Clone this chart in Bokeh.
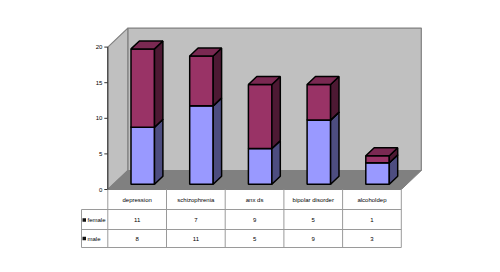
from bokeh.plotting import figure
from bokeh.models import Range1d
from bokeh.embed import file_html
from bokeh.resources import INLINE
from bokeh.core.properties import value

# ---- data ----
categories = ["depression", "schizophrenia", "anx ds", "bipolar disorder", "alcoholdep"]
female = [11, 7, 9, 5, 1]
male = [8, 11, 5, 9, 3]
series_names = ["female", "male"]
y_ticks = [0, 5, 10, 15, 20]
y_max = 20

# ---- geometry (style) ----
W, H = 500, 272
X0, XS = 107.3, 58.7   # pixel of category-start 0, pixels per category
Y0, YS = 189.0, 7.12   # pixel of value 0, pixels per unit
DX, DY = 20.0 / XS, 19.0 / YS   # depth vector of the 3D box in data units
F1, F2 = 0.28, 0.70             # bar front / back depth fractions
BW = 23.5 / XS                  # bar width in category units
FONT = value("Liberation Sans")
FS = "6px"

p = figure(width=W, height=H, output_backend="svg", toolbar_location=None,
           x_range=Range1d(-X0 / XS, (W - X0) / XS),
           y_range=Range1d(-(H - Y0) / YS, Y0 / YS),
           x_axis_type=None, y_axis_type=None, min_border=0)
p.outline_line_color = None
p.background_fill_color = "white"
p.border_fill_color = "white"

n = len(categories)

# walls and floor
p.patch([DX, n + DX, n + DX, DX], [DY, DY, y_max + DY, y_max + DY],
        fill_color="#C0C0C0", line_color="#808080", line_width=1.2)
p.patch([0, DX, DX, 0], [0, DY, y_max + DY, y_max],
        fill_color="#C0C0C0", line_color="#808080", line_width=1.2)
p.patch([0, n, n + DX, DX], [0, 0, DY, DY],
        fill_color="#808080", line_color="#808080", line_width=1)

# value axis
p.segment(x0=[0], y0=[0], x1=[0], y1=[y_max], line_color="#333333", line_width=1)
p.segment(x0=[-3.5 / XS] * len(y_ticks), y0=y_ticks, x1=[0] * len(y_ticks), y1=y_ticks,
          line_color="#333333", line_width=1)
p.text(x=[-5.5 / XS] * len(y_ticks), y=y_ticks, text=[str(t) for t in y_ticks],
       text_align="right", text_baseline="middle", text_font=FONT,
       text_font_size=FS, text_color="#000000")

# bars
def faces(bottoms, tops):
    fr_x, fr_y, sd_x, sd_y, tp_x, tp_y = [], [], [], [], [], []
    for i, (b, t) in enumerate(zip(bottoms, tops)):
        c = i + 0.5
        xa, xb = c - BW / 2, c + BW / 2
        ax, ay = F1 * DX, F1 * DY
        bx, by = F2 * DX, F2 * DY
        fr_x.append([xa + ax, xb + ax, xb + ax, xa + ax])
        fr_y.append([b + ay, b + ay, t + ay, t + ay])
        sd_x.append([xb + ax, xb + bx, xb + bx, xb + ax])
        sd_y.append([b + ay, b + by, t + by, t + ay])
        tp_x.append([xa + ax, xb + ax, xb + bx, xa + bx])
        tp_y.append([t + ay, t + ay, t + by, t + by])
    return fr_x, fr_y, sd_x, sd_y, tp_x, tp_y

male_bottom = [0] * n
male_top = male
fem_bottom = male
fem_top = [m + f for m, f in zip(male, female)]

for (bot, top, cols) in [
    (male_bottom, male_top, ("#9999FF", "#4D4D80", "#7A7ACC")),
    (fem_bottom, fem_top, ("#993366", "#4D1933", "#7A2952")),
]:
    fx, fy, sx, sy, tx, ty = faces(bot, top)
    p.patches(fx, fy, fill_color=cols[0], line_color="black", line_width=1.5)
    p.patches(sx, sy, fill_color=cols[1], line_color="black", line_width=1.5)
    p.patches(tx, ty, fill_color=cols[2], line_color="black", line_width=1.5)

# data table
r1, r2, r3 = -20.0 / YS, -40.0 / YS, -58.0 / YS
left = -26.3 / XS
GRID = "#9A9A9A"
# horizontal lines
p.segment(x0=[left] * 3, y0=[r1, r2, r3], x1=[n] * 3, y1=[r1, r2, r3],
          line_color=GRID, line_width=1)
# vertical column lines
p.segment(x0=list(range(n + 1)), y0=[0] * (n + 1), x1=list(range(n + 1)), y1=[r3] * (n + 1),
          line_color=GRID, line_width=1)
p.segment(x0=[left], y0=[r1], x1=[left], y1=[r3], line_color=GRID, line_width=1)

centers = [i + 0.5 for i in range(n)]
p.text(x=centers, y=[-10.0 / YS] * n, text=categories, text_align="center",
       text_baseline="middle", text_font=FONT, text_font_size=FS, text_color="black")
row_y = [-30.5 / YS, -49.0 / YS]
for vals, ry in zip([female, male], row_y):
    p.text(x=centers, y=[ry] * n, text=[str(v) for v in vals], text_align="center",
           text_baseline="middle", text_font=FONT, text_font_size=FS, text_color="black")

sq = 3.5
p.rect(x=[(82.0 + sq / 2 - X0) / XS] * 2, y=row_y, width=sq / XS, height=sq / YS,
       fill_color="#111111", line_color=None)
p.text(x=[(87.0 - X0) / XS] * 2, y=row_y, text=series_names, text_align="left",
       text_baseline="middle", text_font=FONT, text_font_size=FS, text_color="black")

open("out.html", "w").write(file_html(p, INLINE))
